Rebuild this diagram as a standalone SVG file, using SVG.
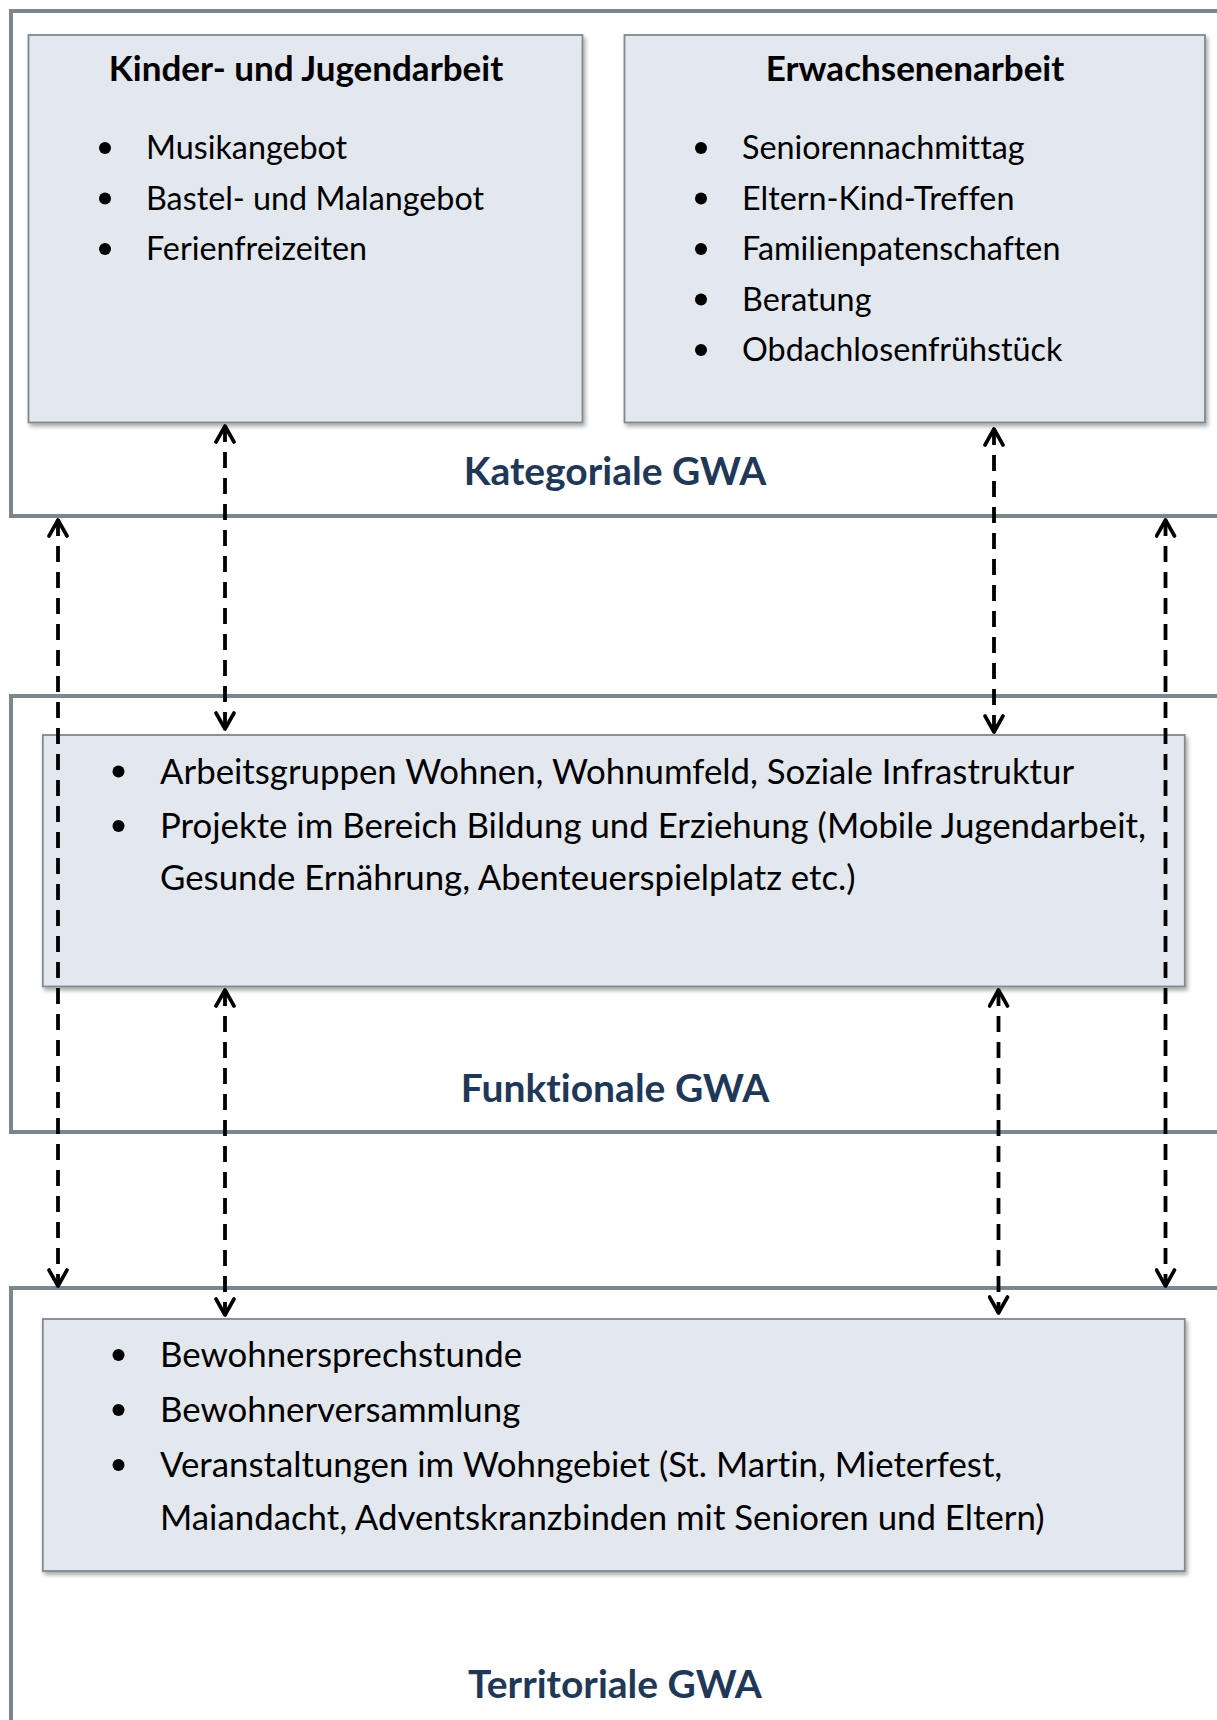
<svg xmlns="http://www.w3.org/2000/svg" width="1217" height="1720" viewBox="0 0 1217 1720">
<style>
text{font-variant-ligatures:none;font-feature-settings:"liga" 0,"clig" 0}
.frame{fill:none;stroke:#7c878c;stroke-width:4}
.box{fill:#e3e7ee;stroke:#7f898e;stroke-width:1.8}
.t{font-family:Lato,"Open Sans",sans-serif;font-size:32.3px;fill:#000}
.t2{font-family:Lato,"Open Sans",sans-serif;font-size:34.8px;fill:#000}
.h{font-family:Lato,"Open Sans",sans-serif;font-size:35px;font-weight:bold;fill:#000;text-anchor:middle}
.cat{font-family:Lato,"Open Sans",sans-serif;font-size:39px;font-weight:bold;fill:#1f3857;text-anchor:middle}
.dot{fill:#000}
.conn{fill:none;stroke:#000;stroke-width:3.8;stroke-dasharray:16 10}
</style>
<defs>
<filter id="sh" x="-5%" y="-5%" width="110%" height="115%">
<feDropShadow dx="2" dy="3" stdDeviation="2" flood-color="#000" flood-opacity="0.35"/>
</filter>
<marker id="ah" viewBox="0 0 20 22" refX="18" refY="11" markerWidth="20" markerHeight="22" markerUnits="userSpaceOnUse" orient="auto-start-reverse">
<path d="M2,2 L18,11 L2,20" fill="none" stroke="#000" stroke-width="3.6" stroke-linecap="round" stroke-linejoin="round"/>
</marker>
</defs>
<rect width="1217" height="1720" fill="#fff"/>

<g id="kategoriale">
<rect class="frame" x="11" y="11" width="1240" height="505"/>
<text class="cat" x="615" y="485">Kategoriale GWA</text>
</g>
<g id="funktionale">
<rect class="frame" x="11" y="696" width="1240" height="436"/>
<text class="cat" x="615" y="1102">Funktionale GWA</text>
</g>
<g id="territoriale">
<rect class="frame" x="11" y="1288" width="1240" height="500"/>
<text class="cat" x="615" y="1698">Territoriale GWA</text>
</g>

<g id="kinder">
<rect class="box" filter="url(#sh)" x="28.5" y="35" width="554" height="387.5"/>
<text class="h" x="306" y="81">Kinder- und Jugendarbeit</text>
<circle class="dot" cx="105" cy="148" r="6"/><text class="t" x="146" y="159">Musikangebot</text>
<circle class="dot" cx="105" cy="198.5" r="6"/><text class="t" x="146" y="209.5">Bastel- und Malangebot</text>
<circle class="dot" cx="105" cy="249" r="6"/><text class="t" x="146" y="260">Ferienfreizeiten</text>
</g>

<g id="erwachsene">
<rect class="box" filter="url(#sh)" x="624.5" y="35" width="580.5" height="387.5"/>
<text class="h" x="915" y="81">Erwachsenenarbeit</text>
<circle class="dot" cx="701" cy="148" r="6"/><text class="t" x="742" y="159">Seniorennachmittag</text>
<circle class="dot" cx="701" cy="198.5" r="6"/><text class="t" x="742" y="209.5">Eltern-Kind-Treffen</text>
<circle class="dot" cx="701" cy="249" r="6"/><text class="t" x="742" y="260">Familienpatenschaften</text>
<circle class="dot" cx="701" cy="299.5" r="6"/><text class="t" x="742" y="310.5">Beratung</text>
<circle class="dot" cx="701" cy="350" r="6"/><text class="t" x="742" y="361">Obdachlosenfrühstück</text>
</g>

<g id="funktional-box">
<rect class="box" filter="url(#sh)" x="42.8" y="735" width="1142" height="251.5"/>
<circle class="dot" cx="118.5" cy="771.5" r="6"/><text class="t2" x="160" y="783.5">Arbeitsgruppen Wohnen, Wohnumfeld, Soziale Infrastruktur</text>
<circle class="dot" cx="118.5" cy="826" r="6"/><text class="t2" x="160" y="838">Projekte im Bereich Bildung und Erziehung (Mobile Jugendarbeit,</text>
<text class="t2" x="160" y="890">Gesunde Ernährung, Abenteuerspielplatz etc.)</text>
</g>

<g id="territorial-box">
<rect class="box" filter="url(#sh)" x="42.8" y="1319" width="1142" height="252"/>
<circle class="dot" cx="118.5" cy="1355" r="6"/><text class="t2" x="160" y="1367">Bewohnersprechstunde</text>
<circle class="dot" cx="118.5" cy="1410" r="6"/><text class="t2" x="160" y="1422">Bewohnerversammlung</text>
<circle class="dot" cx="118.5" cy="1465" r="6"/><text class="t2" x="160" y="1477">Veranstaltungen im Wohngebiet (St. Martin, Mieterfest,</text>
<text class="t2" x="160" y="1530">Maiandacht, Adventskranzbinden mit Senioren und Eltern)</text>
</g>

<g id="connectors">
<line class="conn" x1="225" y1="426" x2="225" y2="729" marker-start="url(#ah)" marker-end="url(#ah)"/>
<line class="conn" x1="994" y1="429" x2="994" y2="732" marker-start="url(#ah)" marker-end="url(#ah)"/>
<line class="conn" x1="58" y1="520" x2="58" y2="1286" marker-start="url(#ah)" marker-end="url(#ah)"/>
<line class="conn" x1="1165.5" y1="520" x2="1165.5" y2="1286" marker-start="url(#ah)" marker-end="url(#ah)"/>
<line class="conn" x1="225" y1="990" x2="225" y2="1315" marker-start="url(#ah)" marker-end="url(#ah)"/>
<line class="conn" x1="998.5" y1="990" x2="998.5" y2="1313" marker-start="url(#ah)" marker-end="url(#ah)"/>
</g>
</svg>
